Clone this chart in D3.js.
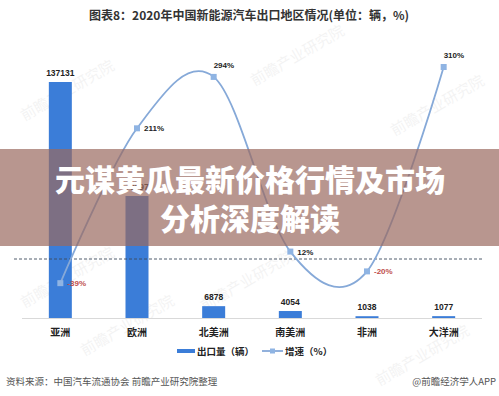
<!DOCTYPE html>
<html>
<head>
<meta charset="utf-8">
<script src="https://cdn.jsdelivr.net/npm/d3@7"></script>
<style>
  body { margin: 0; background: #fff; }
  svg { display: block; font-family: "Noto Sans CJK SC", "Noto Sans", sans-serif; }
</style>
</head>
<body>
<div id="chart"></div>
<script>
// chart data
const regions = ["亚洲", "欧洲", "北美洲", "南美洲", "非洲", "大洋洲"];
const exports = [137131, 70897, 6878, 4054, 1038, 1077];
const growth = [-39, 211, 294, 12, -20, 310];
const growthLabelPos = ["right", "right", "above", "right", "right", "above"];

const titleText = "图表8：2020年中国新能源汽车出口地区情况(单位：辆，%)";
const bannerLines = ["元谋黄瓜最新价格行情及市场", "分析深度解读"];
const legendLabels = ["出口量（辆）", "增速（%）"];
const sourceText = "资料来源：中国汽车流通协会 前瞻产业研究院整理";
const creditText = "@前瞻经济学人APP";

const W = 499, H = 396;
const barColor = "#3b7dd8", lineColor = "#86a9d8", markColor = "#8fb4e3";

const svg = d3.select("#chart").append("svg")
    .attr("width", W).attr("height", H);

// faint watermarks
const marks = [[70, 95], [300, 60], [440, 110], [70, 282], [250, 285], [425, 360], [130, 330]];
svg.append("g").selectAll("text").data(marks).join("text")
    .attr("transform", d => `translate(${d[0]},${d[1]}) rotate(-30)`)
    .attr("text-anchor", "middle")
    .attr("font-size", 15)
    .attr("fill", "#000")
    .attr("opacity", 0.045)
    .text("前瞻产业研究院");

// title
svg.append("text")
    .attr("x", 249).attr("y", 20)
    .attr("text-anchor", "middle")
    .attr("font-size", 12).attr("font-weight", "bold")
    .attr("fill", "#333")
    .text(titleText);

// scales
const x = d3.scaleBand().domain(regions).range([22, 482])
    .paddingInner(0.7).paddingOuter(0.35);
const y = d3.scaleLinear().domain([0, 137131]).range([318, 82]);
const y2 = d3.scaleLinear().domain([0, 310]).range([259, 67]);
const cx = d => x(d) + x.bandwidth() / 2;

// baseline axis
svg.append("line")
    .attr("x1", 22).attr("x2", 482)
    .attr("y1", y(0) + 0.5).attr("y2", y(0) + 0.5)
    .attr("stroke", "#d9d9d9");

// bars
svg.append("g").selectAll("rect").data(exports).join("rect")
    .attr("x", (d, i) => x(regions[i]))
    .attr("y", d => y(d))
    .attr("width", x.bandwidth())
    .attr("height", d => y(0) - y(d))
    .attr("fill", barColor);

svg.append("g").selectAll("text").data(exports).join("text")
    .attr("x", (d, i) => cx(regions[i]))
    .attr("y", d => y(d) - 6)
    .attr("text-anchor", "middle")
    .attr("font-family", "Liberation Sans, Arial, sans-serif")
    .attr("font-size", 8.5).attr("font-weight", "bold")
    .attr("fill", "#222")
    .text(d => d);

// zero line of growth axis
svg.append("line")
    .attr("x1", 14).attr("x2", 482)
    .attr("y1", y2(0)).attr("y2", y2(0))
    .attr("stroke", "#3c4a5c").attr("stroke-width", 0.9)
    .attr("stroke-dasharray", "3,2");

// growth line (smoothed like the spreadsheet original)
const line = d3.line()
    .x((d, i) => cx(regions[i]))
    .y(d => y2(d))
    .curve(d3.curveCatmullRom.alpha(0));

svg.append("path")
    .datum(growth)
    .attr("d", line)
    .attr("fill", "none")
    .attr("stroke", lineColor)
    .attr("stroke-width", 1.8);

svg.append("g").selectAll("rect").data(growth).join("rect")
    .attr("x", (d, i) => cx(regions[i]) - 3)
    .attr("y", d => y2(d) - 3)
    .attr("width", 6).attr("height", 6)
    .attr("fill", markColor);

svg.append("g").selectAll("text").data(growth).join("text")
    .attr("x", (d, i) => cx(regions[i]) + (growthLabelPos[i] == "right" ? 7 : 0))
    .attr("y", (d, i) => y2(d) + (growthLabelPos[i] == "right" ? 3 : -9))
    .attr("font-family", "Liberation Sans, Arial, sans-serif")
    .attr("font-size", 8).attr("font-weight", "bold")
    .attr("fill", d => d < 0 ? "#c0504d" : "#222")
    .text(d => d + "%");

// category labels
svg.append("g").selectAll("text").data(regions).join("text")
    .attr("x", d => cx(d))
    .attr("y", 336)
    .attr("text-anchor", "middle")
    .attr("font-size", 10).attr("font-weight", "bold")
    .attr("fill", "#222")
    .text(d => d);

// legend
const lg = svg.append("g");
lg.append("rect").attr("x", 177).attr("y", 349).attr("width", 18).attr("height", 4).attr("fill", barColor);
lg.append("text").attr("x", 197).attr("y", 355)
    .attr("font-size", 9.5).attr("font-weight", "bold").attr("fill", "#222")
    .text(legendLabels[0]);
lg.append("line").attr("x1", 262).attr("x2", 283).attr("y1", 351).attr("y2", 351)
    .attr("stroke", lineColor).attr("stroke-width", 1.8);
lg.append("rect").attr("x", 270).attr("y", 348.5).attr("width", 5).attr("height", 5).attr("fill", markColor);
lg.append("text").attr("x", 285).attr("y", 355)
    .attr("font-size", 9.5).attr("font-weight", "bold").attr("fill", "#222")
    .text(legendLabels[1]);

// source
svg.append("text").attr("x", 6).attr("y", 385)
    .attr("font-size", 9.5).attr("fill", "#555")
    .text(sourceText);
svg.append("text").attr("x", 496).attr("y", 385)
    .attr("text-anchor", "end")
    .attr("font-size", 9.5).attr("fill", "#555")
    .text(creditText);

// banner overlay
svg.append("rect")
    .attr("x", 0).attr("y", 149).attr("width", W).attr("height", 97)
    .attr("fill", "rgb(154,105,95)").attr("opacity", 0.7);

svg.append("g").selectAll("text").data(bannerLines).join("text")
    .attr("x", 250)
    .attr("y", (d, i) => 191 + i * 39)
    .attr("text-anchor", "middle")
    .attr("font-size", 30).attr("font-weight", 900)
    .attr("fill", "#fff")
    .text(d => d);
</script>
</body>
</html>
